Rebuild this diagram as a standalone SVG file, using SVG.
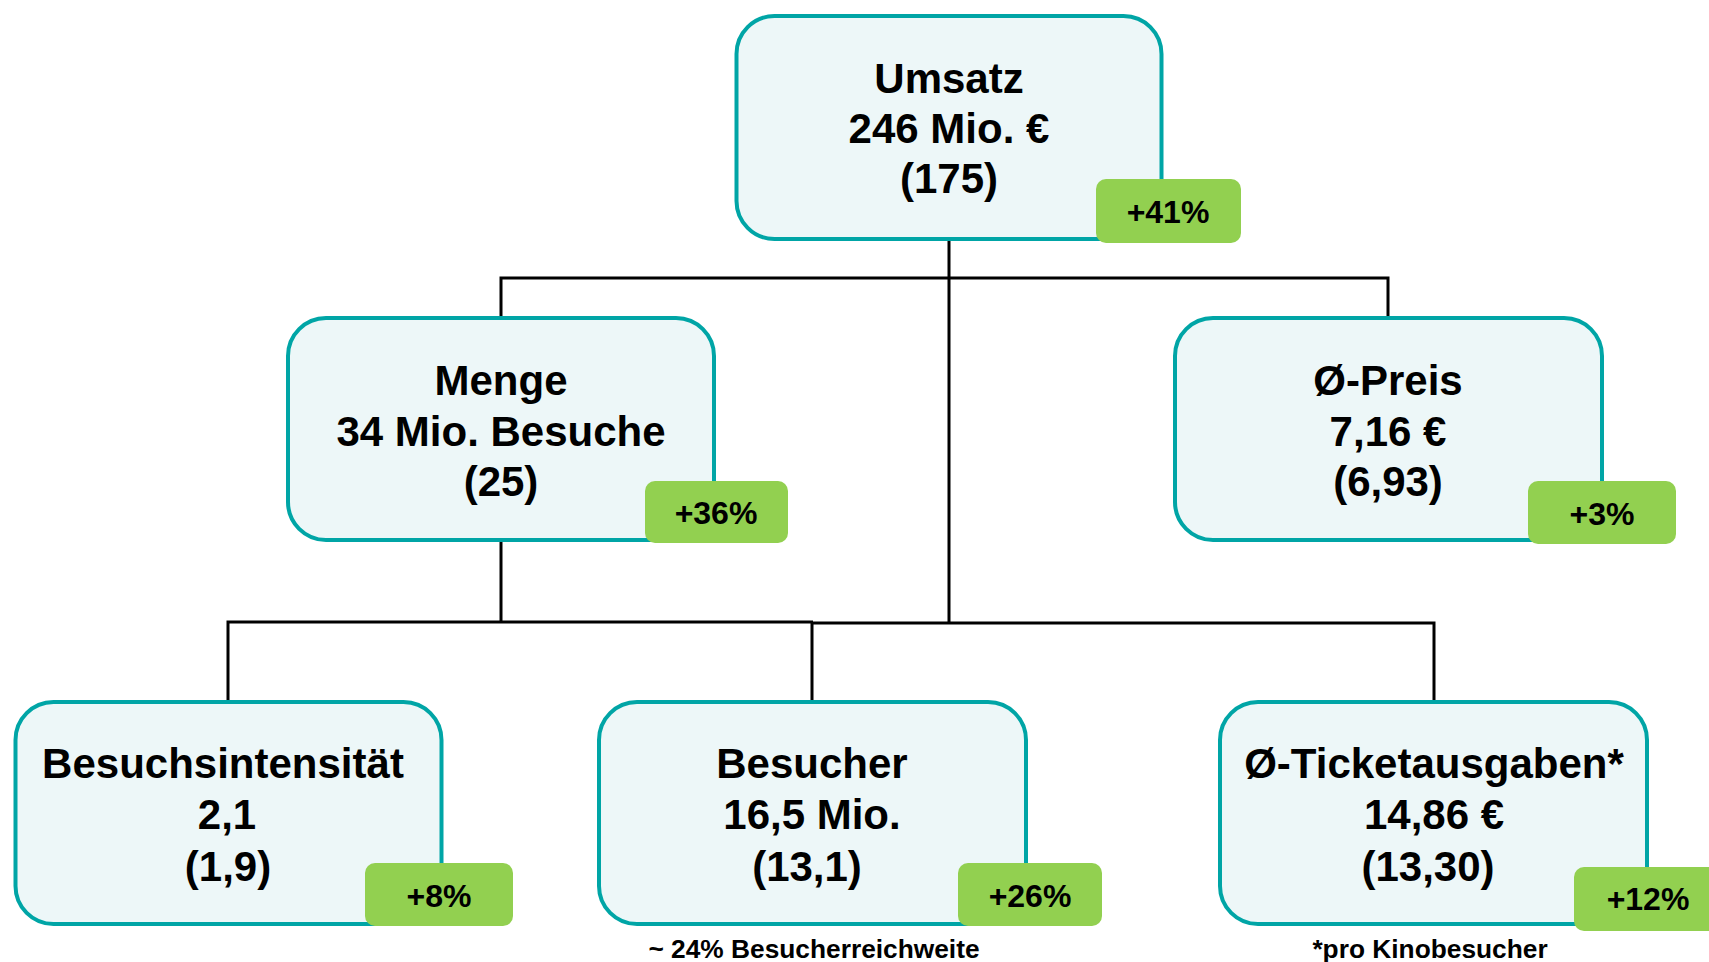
<svg xmlns="http://www.w3.org/2000/svg" width="1709" height="962" viewBox="0 0 1709 962">
<style>
.box{fill:#EDF7F8;stroke:#00A5A6;stroke-width:4}
.badge{fill:#92D050}
.t{font-family:"Liberation Sans",Arial,sans-serif;font-weight:bold;font-size:42px;fill:#000;text-anchor:middle}
.b{font-family:"Liberation Sans",Arial,sans-serif;font-weight:bold;font-size:32px;fill:#000;text-anchor:middle}
.f{font-family:"Liberation Sans",Arial,sans-serif;font-weight:bold;font-size:26.3px;fill:#000;text-anchor:middle}
.c{fill:none;stroke:#000;stroke-width:3}
</style>
<rect width="1709" height="962" fill="#fff"/>
<g id="connectors">
<path class="c" d="M949 240 V623"/>
<path class="c" d="M501 317 V278 H1388 V317"/>
<path class="c" d="M501 542 V622"/>
<path class="c" d="M228 700 V622 H813"/>
<path class="c" d="M812 700 V623 H1434 V700"/>
</g>
<g id="umsatz">
<rect class="box" x="736.5" y="16" width="425" height="223" rx="38"/>
<text class="t" x="949" y="93">Umsatz</text>
<text class="t" x="949" y="143">246 Mio. €</text>
<text class="t" x="949" y="193">(175)</text>
<rect class="badge" x="1096" y="179" width="145" height="64" rx="10"/>
<text class="b" x="1168" y="223">+41%</text>
</g>
<g id="menge">
<rect class="box" x="288" y="318" width="426" height="222" rx="38"/>
<text class="t" x="501" y="395">Menge</text>
<text class="t" x="501" y="446">34 Mio. Besuche</text>
<text class="t" x="501" y="496">(25)</text>
<rect class="badge" x="645" y="481" width="143" height="62" rx="10"/>
<text class="b" x="716" y="524">+36%</text>
</g>
<g id="preis">
<rect class="box" x="1175" y="318" width="427" height="222" rx="38"/>
<text class="t" x="1388" y="395">Ø-Preis</text>
<text class="t" x="1388" y="446">7,16 €</text>
<text class="t" x="1388" y="496">(6,93)</text>
<rect class="badge" x="1528" y="481" width="148" height="63" rx="10"/>
<text class="b" x="1602" y="525">+3%</text>
</g>
<g id="besuchsintensitaet">
<rect class="box" x="15.5" y="702" width="426" height="222" rx="38"/>
<text class="t" x="223" y="778">Besuchsintensität</text>
<text class="t" x="227" y="829">2,1</text>
<text class="t" x="228" y="881">(1,9)</text>
<rect class="badge" x="365" y="863" width="148" height="63" rx="10"/>
<text class="b" x="439" y="907">+8%</text>
</g>
<g id="besucher">
<rect class="box" x="599" y="702" width="427" height="222" rx="38"/>
<text class="t" x="812" y="778">Besucher</text>
<text class="t" x="812" y="829">16,5 Mio.</text>
<text class="t" x="807" y="881">(13,1)</text>
<rect class="badge" x="958" y="863" width="144" height="63" rx="10"/>
<text class="b" x="1030" y="907">+26%</text>
<text class="f" x="814" y="958">~ 24% Besucherreichweite</text>
</g>
<g id="ticketausgaben">
<rect class="box" x="1220" y="702" width="427" height="222" rx="38"/>
<text class="t" x="1434" y="778">Ø-Ticketausgaben*</text>
<text class="t" x="1434" y="829">14,86 €</text>
<text class="t" x="1428" y="881">(13,30)</text>
<rect class="badge" x="1574" y="867" width="146" height="64" rx="10"/>
<text class="b" x="1648" y="910">+12%</text>
<text class="f" x="1430" y="958">*pro Kinobesucher</text>
</g>
</svg>
